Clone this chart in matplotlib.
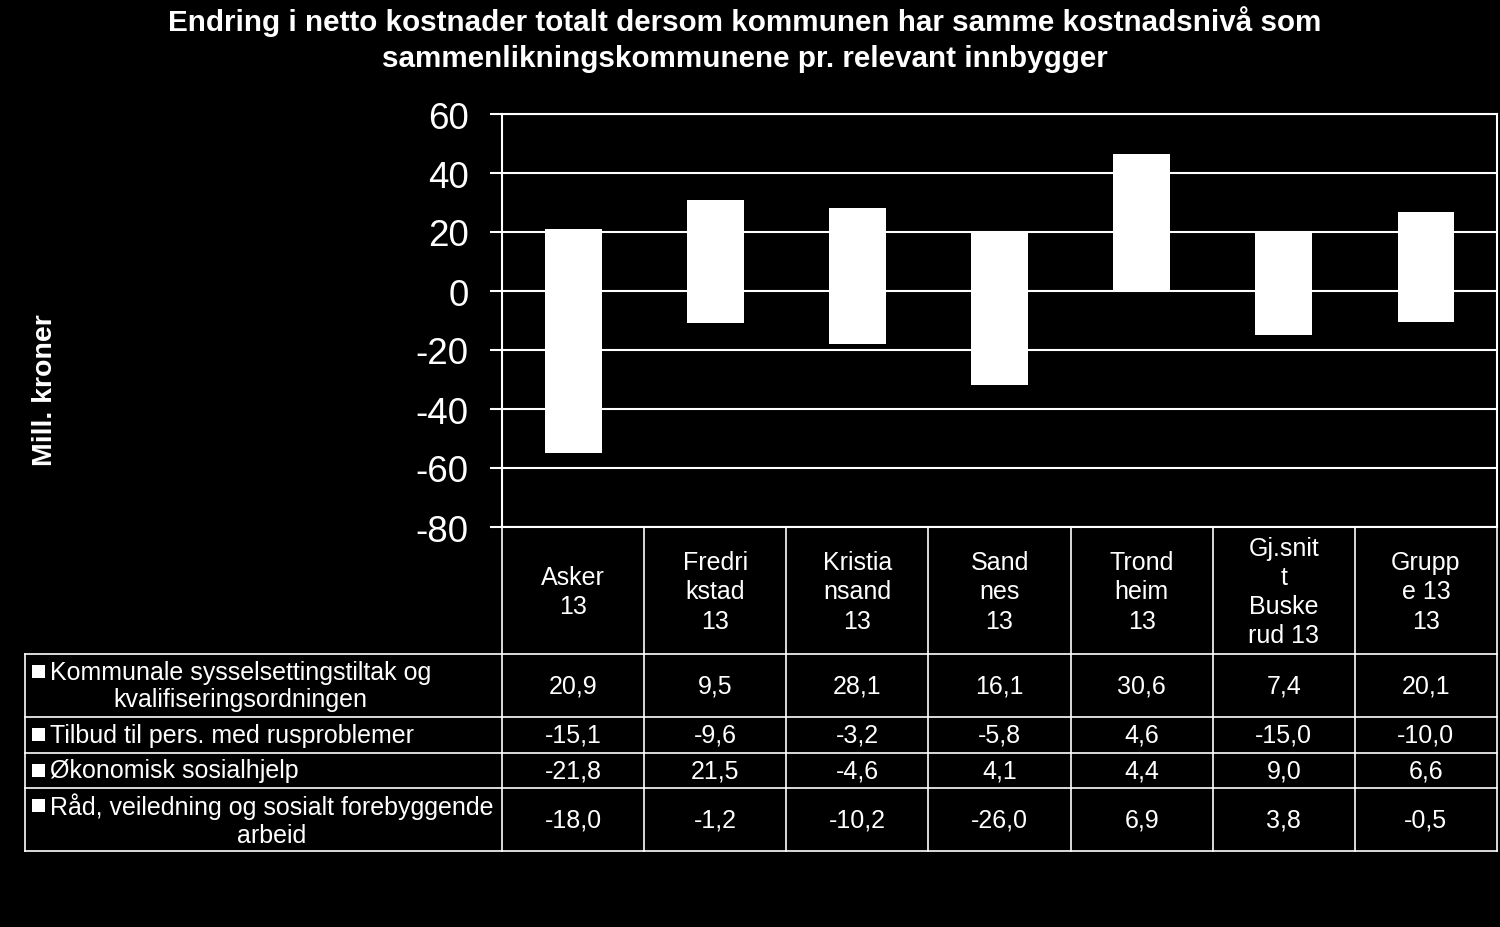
import numpy as np
import matplotlib
matplotlib.use("Agg")
import matplotlib.pyplot as plt
from matplotlib.lines import Line2D
from matplotlib.patches import Rectangle

plt.rcParams['font.family'] = ['Liberation Sans', 'DejaVu Sans']
plt.rcParams['axes.unicode_minus'] = False

categories = ["Asker\n13", "Fredri\nkstad\n13", "Kristia\nnsand\n13", "Sand\nnes\n13",
              "Trond\nheim\n13", "Gj.snit\nt\nBuske\nrud 13", "Grupp\ne 13\n13"]
series_names = ["Kommunale sysselsettingstiltak og\nkvalifiseringsordningen",
                "Tilbud til pers. med rusproblemer",
                "Økonomisk sosialhjelp",
                "Råd, veiledning og sosialt forebyggende\narbeid"]
sysselsetting = [20.9, 9.5, 28.1, 16.1, 30.6, 7.4, 20.1]
rus = [-15.1, -9.6, -3.2, -5.8, 4.6, -15.0, -10.0]
sosialhjelp = [-21.8, 21.5, -4.6, 4.1, 4.4, 9.0, 6.6]
raad = [-18.0, -1.2, -10.2, -26.0, 6.9, 3.8, -0.5]
series = [sysselsetting, rus, sosialhjelp, raad]

title = ("Endring i netto kostnader totalt dersom kommunen har samme kostnadsnivå som\n"
         "sammenlikningskommunene pr. relevant innbygger")

W, H = 1500, 928
fig = plt.figure(figsize=(15, 9.28), dpi=100, facecolor='black')

# plot area in pixels
ax_l, ax_r, ax_t, ax_b = 502, 1497, 115, 528
ax = fig.add_axes([ax_l / W, 1 - ax_b / H, (ax_r - ax_l) / W, (ax_b - ax_t) / H])
ax.set_facecolor('black')

n = len(categories)
x = np.arange(n)
pos_base = np.zeros(n)
neg_base = np.zeros(n)
for vals in series:
    v = np.array(vals)
    bottom = np.where(v >= 0, pos_base, neg_base)
    ax.bar(x, v, bottom=bottom, width=0.4, color='white', linewidth=0,
           antialiased=False, zorder=3)
    pos_base = pos_base + np.where(v >= 0, v, 0)
    neg_base = neg_base + np.where(v < 0, v, 0)

ax.set_xlim(-0.5, n - 0.5)
ax.set_ylim(-80, 60)
ax.set_yticks(np.arange(-80, 61, 20))
ax.grid(axis='y', color='white', linewidth=1.5, zorder=1)
ax.set_xticks([])
for s in ax.spines.values():
    s.set_color('white')
    s.set_linewidth(1.5)
ax.tick_params(axis='y', colors='white', labelsize=26.5, length=8.6, width=1.5, pad=15.5)

fig.text(45 / W, 1 - 390 / H, "Mill. kroner", color='white', fontsize=20.5,
         fontweight='bold', rotation=90, ha='center', va='center')

fig.text(745 / W, 1 - 39.5 / H, title, color='white', fontsize=21.3, fontweight='bold',
         ha='center', va='center', linespacing=1.33)

# data table drawn in pixel coordinates
tab = fig.add_axes([0, 0, 1, 1])
tab.set_xlim(0, W)
tab.set_ylim(H, 0)
tab.axis('off')
tab.patch.set_alpha(0)

col_w = (ax_r - ax_l) / n
tab_left = 25
header_bottom = 655
row_edges = [655, 718, 754, 789, 852]
lw = 1.2

def line(x0, y0, x1, y1):
    tab.add_line(Line2D([x0, x1], [y0, y1], color='white', linewidth=lw))

for i in range(n + 1):
    xx = ax_l + i * col_w
    line(xx, ax_b, xx, row_edges[-1])
line(tab_left, header_bottom, tab_left, row_edges[-1])
for y in row_edges:
    line(tab_left, y, ax_r, y)

for i, c in enumerate(categories):
    tab.text(ax_l + (i + 0.5) * col_w, (ax_b + header_bottom) / 2 + 1, c, color='white',
             fontsize=18, ha='center', va='center', linespacing=1.27)

for r, (name, vals) in enumerate(zip(series_names, series)):
    yc = (row_edges[r] + row_edges[r + 1]) / 2
    nlines = name.count("\n") + 1
    y_first = yc - (nlines - 1) * 14
    tab.add_patch(Rectangle((32, y_first - 7), 13, 13, color='white', linewidth=0))
    tab.text(50, yc, name, color='white', fontsize=18, ha='left', va='center',
             multialignment='center', linespacing=1.2)
    for i, v in enumerate(vals):
        tab.text(ax_l + (i + 0.5) * col_w, yc, f"{v:.1f}".replace('.', ','), color='white',
                 fontsize=18, ha='center', va='center')

fig.savefig("out.png", dpi=100, facecolor='black')
